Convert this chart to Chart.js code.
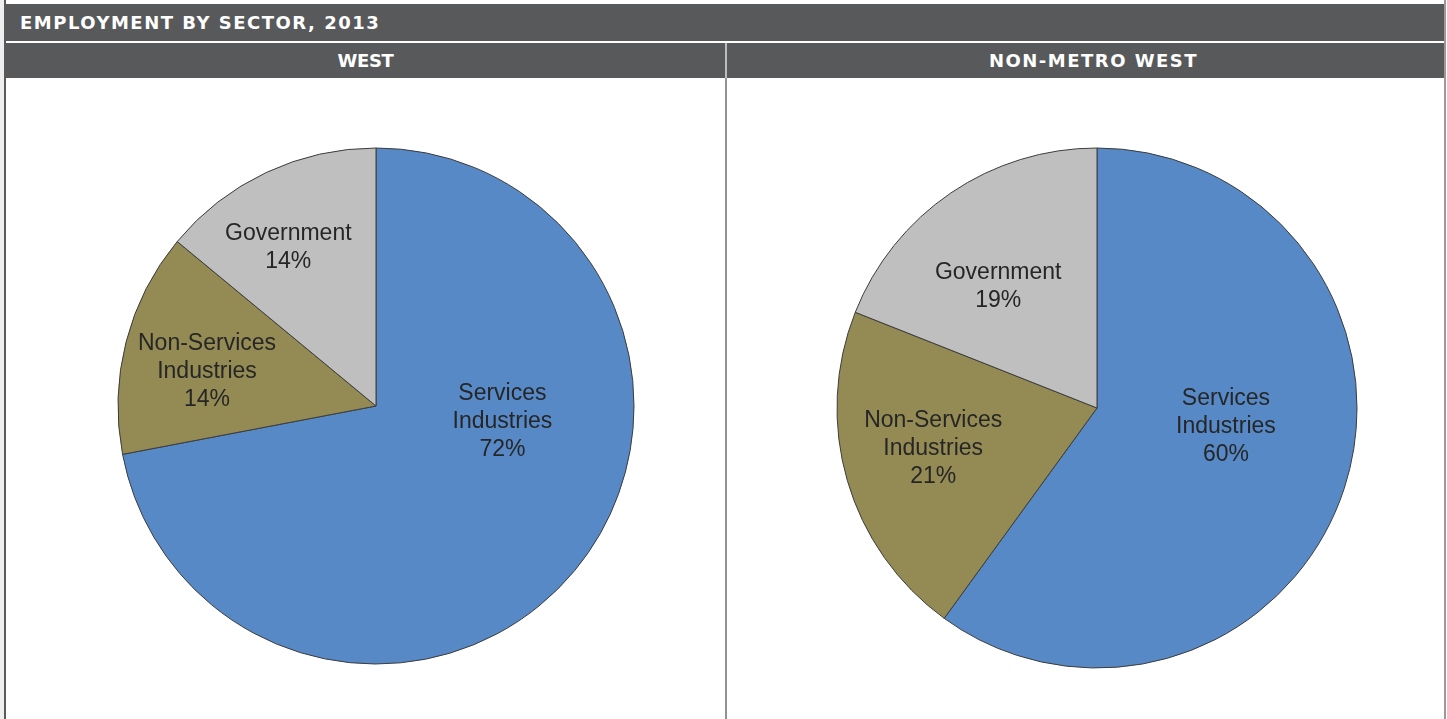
<!DOCTYPE html>
<html>
<head>
<meta charset="utf-8">
<script src="https://cdn.jsdelivr.net/npm/chart.js@4/dist/chart.umd.min.js"></script>
<style>
  html, body { margin: 0; padding: 0; background: #fff; }
  body { width: 1447px; height: 719px; position: relative; overflow: hidden; font-family: "DejaVu Sans", sans-serif; }
  .edge { position: absolute; left: 0; top: 0; width: 6px; height: 719px; background: #efefef; border-right: 2px solid #5a5a5a; box-sizing: border-box; }
  .redge { position: absolute; left: 1444px; top: 0; width: 2px; height: 719px; background: #9a9a9a; }
  .title { position: absolute; left: 6px; top: 4px; width: 1438px; height: 37px; background: #58595b; color: #fff;
           font: bold 18px "DejaVu Sans", sans-serif; line-height: 37px; padding-left: 14px; box-sizing: border-box; white-space: nowrap; }
  .sub { position: absolute; top: 43px; height: 35px; background: #58595b; color: #fff; font: bold 18px "DejaVu Sans", sans-serif;
         line-height: 36px; text-align: center; box-sizing: border-box; white-space: nowrap; }
  .divider { position: absolute; left: 725px; top: 78px; width: 2px; height: 641px; background: #929292; }
  canvas { position: absolute; }
</style>
</head>
<body>
<div class="edge"></div>
<div class="redge"></div>
<div class="title"><span id="title"></span></div>
<div class="sub" style="left:6px;width:719px;padding-left:0px;"><span id="sub0"></span></div>
<div class="sub" style="left:727px;width:717px;padding-left:16px;"><span id="sub1"></span></div>
<div class="divider"></div>
<div style="position:absolute;left:725px;top:43px;width:2px;height:35px;background:#bdbdbd;"></div>
<canvas id="west" width="600" height="600" style="left:76px;top:106px;width:600px;height:600px;"></canvas>
<canvas id="nonmetro" width="600" height="600" style="left:797px;top:108px;width:600px;height:600px;"></canvas>
<script>
const chartTitle = "EMPLOYMENT BY SECTOR, 2013";
const regions = ["WEST", "NON-METRO WEST"];
const sectors = [["Services", "Industries"], ["Non-Services", "Industries"], ["Government"]];
const westShares = [72, 14, 14];
const nonMetroShares = [60, 21, 19];
const sectorColors = ["#5689c6", "#938a54", "#bfbfbf"];

// widen the header text to the width it has in the original (heavy wide font)
const fitText = (id, text, width) => {
    const el = document.getElementById(id);
    el.textContent = text;
    const natural = el.getBoundingClientRect().width;
    const ls = Math.max(-1, Math.min(1.5, (width - natural) / text.length));
    el.style.letterSpacing = ls + "px";
};
fitText("title", chartTitle, 367);
fitText("sub0", regions[0], 56);
fitText("sub1", regions[1], 226);

// draws the label of each slice, offsets are in units of the radius
const sliceLabels = {
    id: "sliceLabels",
    afterDatasetsDraw(chart, args, opts) {
        const ctx = chart.ctx;
        const meta = chart.getDatasetMeta(0);
        const values = chart.data.datasets[0].data;
        ctx.save();
        ctx.font = "23px 'Liberation Sans', Arial, sans-serif";
        ctx.fillStyle = "#262626";
        ctx.textAlign = "center";
        ctx.textBaseline = "middle";
        meta.data.forEach((arc, i) => {
            const lines = chart.data.labels[i].concat([values[i] + "%"]);
            const off = opts.offsets[i];
            const cx = arc.x + off[0] * arc.outerRadius;
            const cy = arc.y + off[1] * arc.outerRadius;
            const lh = 28;
            lines.forEach((line, j) => {
                ctx.fillText(line, cx, cy + (j - (lines.length - 1) / 2) * lh);
            });
        });
        ctx.restore();
    },
};

const makePie = (canvasId, shares, radius, offsets) => {
    return new Chart(document.getElementById(canvasId), {
        type: "pie",
        data: {
            labels: sectors,
            datasets: [{
                data: shares,
                backgroundColor: sectorColors,
                borderColor: "#3c3c3c",
                borderWidth: 1,
                radius: radius,
            }],
        },
        options: {
            responsive: false,
            animation: false,
            layout: { padding: 0 },
            plugins: {
                legend: { display: false },
                tooltip: { enabled: false },
                sliceLabels: { offsets: offsets },
            },
        },
        plugins: [sliceLabels],
    });
};

makePie("west", westShares, 258, [[0.49, 0.06], [-0.655, -0.135], [-0.34, -0.612]]);
makePie("nonmetro", nonMetroShares, 260, [[0.496, 0.07], [-0.63, 0.158], [-0.38, -0.465]]);
</script>
</body>
</html>
